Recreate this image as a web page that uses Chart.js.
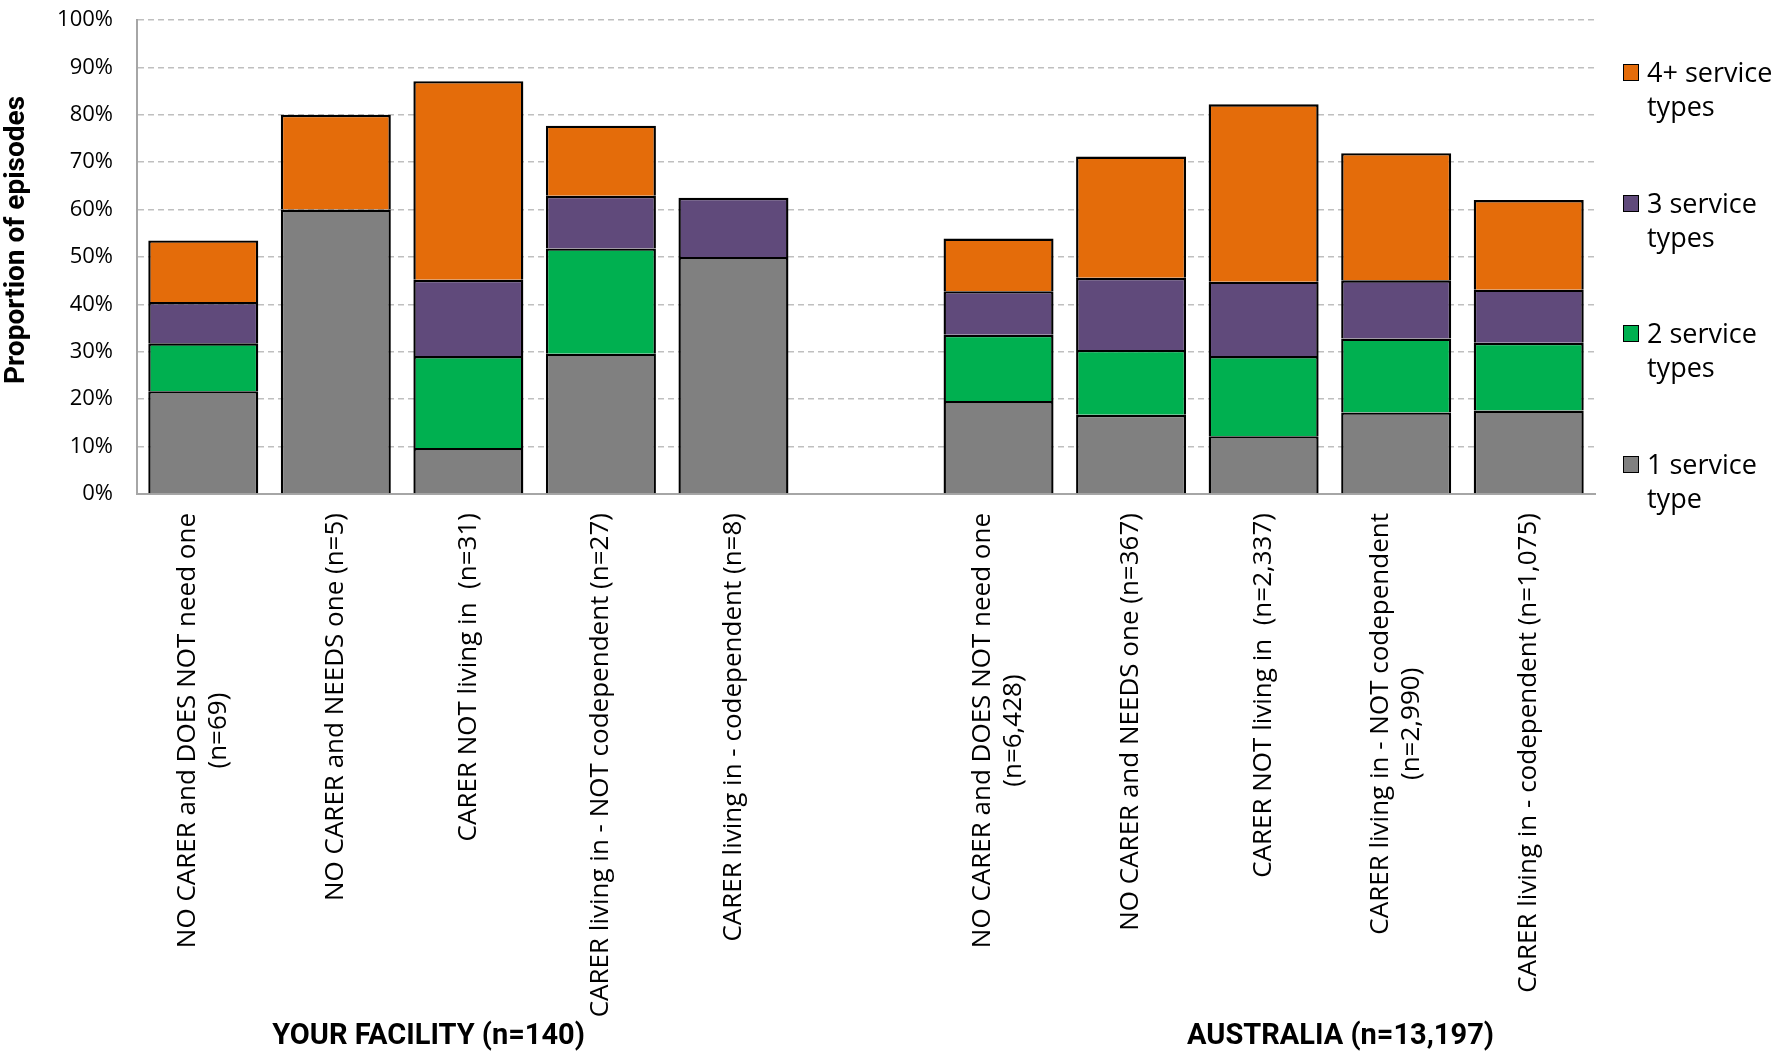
<!DOCTYPE html>
<html>
<head>
<meta charset="utf-8">
<script src="https://cdn.jsdelivr.net/npm/chart.js@4/dist/chart.umd.min.js"></script>
<style>
  body { margin: 0; background: #fff; }
  #wrap { position: relative; width: 1777px; height: 1052px; }
  #legend { position: absolute; left: 1623px; top: 0; font-family: "Open Sans", sans-serif; font-size: 27px; color: #000; }
  .item { position: absolute; left: 0; width: 160px; line-height: 34px; }
  .box { position: absolute; left: 0; top: 9px; width: 14px; height: 15px; border: 1.5px solid #000; }
  .txt { position: absolute; left: 24px; top: 0; white-space: nowrap; }
</style>
</head>
<body>
<div id="wrap">
  <canvas id="chart"></canvas>
  <div id="legend"></div>
</div>
<script>
// categories (each entry = lines of the label), empty slot splits the two groups
var categorias = [
  ['NO CARER and DOES NOT need one', '(n=69)'],
  ['NO CARER and NEEDS one (n=5)'],
  ['CARER NOT living in  (n=31)'],
  ['CARER living in - NOT codependent (n=27)'],
  ['CARER living in - codependent (n=8)'],
  [''],
  ['NO CARER and DOES NOT need one', '(n=6,428)'],
  ['NO CARER and NEEDS one (n=367)'],
  ['CARER NOT living in  (n=2,337)'],
  ['CARER living in - NOT codependent', '(n=2,990)'],
  ['CARER living in - codependent (n=1,075)']
];
var grupos = ['YOUR FACILITY (n=140)', 'AUSTRALIA (n=13,197)'];

// values in %
var umServico      = [21.7, 60, 9.7, 29.6, 50, null, 19.6, 16.7, 12.2, 17.2, 17.6];
var doisServicos   = [10.1, null, 19.4, 22.2, null, null, 14.0, 13.7, 16.9, 15.6, 14.3];
var tresServicos   = [8.7, null, 16.1, 11.1, 12.5, null, 9.2, 15.2, 15.7, 12.3, 11.2];
var quatroServicos = [13.0, 20, 41.9, 14.8, null, null, 11.1, 25.6, 37.4, 26.8, 18.9];

var yTicks = [0, 10, 20, 30, 40, 50, 60, 70, 80, 90, 100];

var series = [
  { label: ['1 service', 'type'], data: umServico, cor: '#808080' },
  { label: ['2 service', 'types'], data: doisServicos, cor: '#00B050' },
  { label: ['3 service', 'types'], data: tresServicos, cor: '#604A7B' },
  { label: ['4+ service', 'types'], data: quatroServicos, cor: '#E46C0A' }
];

var fonte = '"Open Sans", sans-serif';
var fonteBold = 'Roboto, sans-serif';

// Legenda em html (4+ em cima)
var legendaHtml = '';
var topos = [55, 186, 316, 447];
for (var i = 0; i < series.length; i++) {
  var s = series[series.length - 1 - i];
  legendaHtml += '<div class="item" style="top:' + topos[i] + 'px">' +
    '<div class="box" style="background:' + s.cor + '"></div>' +
    '<div class="txt">' + s.label[0] + '<br>' + s.label[1] + '</div></div>';
}
document.getElementById('legend').innerHTML = legendaHtml;

// rótulos do eixo x desenhados girados, linhas centradas entre si
var rotulosPlugin = {
  id: 'rotulos',
  afterDraw: function(chart) {
    var ctx = chart.ctx;
    var x = chart.scales.x;
    var base = chart.chartArea.bottom + 19;
    ctx.save();
    ctx.fillStyle = '#000';
    ctx.font = '26px ' + fonte;
    for (var i = 0; i < categorias.length; i++) {
      var linhas = categorias[i];
      var maxW = 0;
      linhas.forEach(function(l) { maxW = Math.max(maxW, ctx.measureText(l).width); });
      ctx.save();
      ctx.translate(x.getPixelForValue(i), base);
      ctx.rotate(-Math.PI / 2);
      ctx.textAlign = 'center';
      ctx.textBaseline = 'middle';
      for (var k = 0; k < linhas.length; k++) {
        ctx.fillText(linhas[k], -maxW / 2, (k - (linhas.length - 1) / 2) * 31);
      }
      ctx.restore();
    }
    // nomes dos grupos
    ctx.font = 'bold 29px ' + fonteBold;
    ctx.textAlign = 'center';
    ctx.textBaseline = 'middle';
    ctx.fillText(grupos[0], x.getPixelForValue(1.7), 1037);
    ctx.fillText(grupos[1], x.getPixelForValue(8.58), 1037);
    // título do eixo y
    ctx.save();
    ctx.translate(17, 240);
    ctx.rotate(-Math.PI / 2);
    ctx.font = 'bold 28px ' + fonteBold;
    ctx.fillText('Proportion of episodes', 0, 0);
    ctx.restore();
    ctx.restore();
  }
};

var ctx = document.getElementById('chart').getContext('2d');
var grafico = new Chart(ctx, {
  type: 'bar',
  data: {
    labels: categorias.map(function(c) { return c.join(' '); }),
    datasets: series.map(function(s) {
      return {
        label: s.label.join(' '),
        data: s.data,
        backgroundColor: s.cor,
        borderColor: '#000',
        borderWidth: 2.4,
        barPercentage: 0.83,
        categoryPercentage: 1
      };
    })
  },
  options: {
    responsive: true,
    maintainAspectRatio: false,
    animation: false,
    layout: { padding: { top: 20, right: 182, left: 0, bottom: 0 } },
    plugins: { legend: { display: false }, tooltip: { enabled: false } },
    scales: {
      x: {
        stacked: true,
        grid: { display: false },
        border: { display: true, color: '#A6A6A6', width: 2 },
        ticks: { display: false },
        afterFit: function(scale) { scale.height = 558; }
      },
      y: {
        stacked: true,
        min: 0,
        max: 100,
        afterBuildTicks: function(scale) {
          scale.ticks = yTicks.map(function(v) { return { value: v }; });
        },
        afterFit: function(scale) {
          scale.width = 137;
          scale.paddingTop = 0;
          scale.paddingBottom = 0;
        },
        grid: { color: '#BFBFBF', lineWidth: 1.5, drawTicks: false },
        border: { display: true, color: '#A6A6A6', width: 2, dash: [6, 4] },
        ticks: {
          padding: 24,
          color: '#000',
          font: { family: fonte, size: 22 },
          callback: function(v) { return v + '%'; }
        }
      }
    }
  },
  plugins: [rotulosPlugin]
});
</script>
</body>
</html>
